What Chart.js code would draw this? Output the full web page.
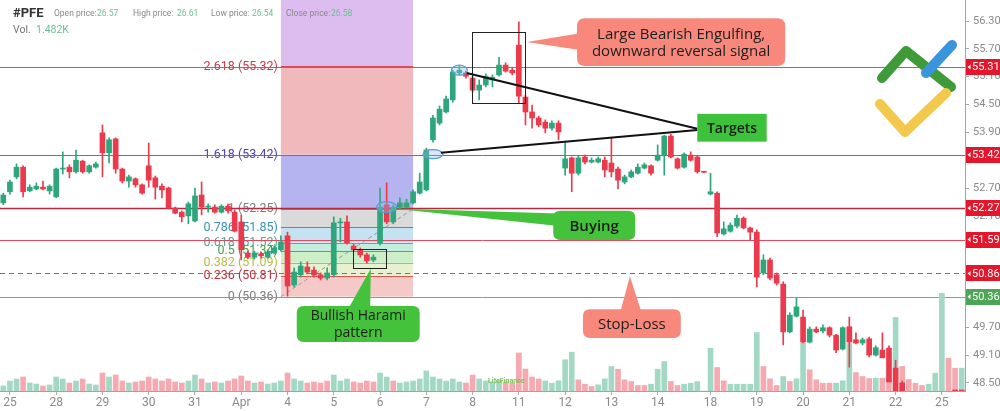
<!DOCTYPE html>
<html><head><meta charset="utf-8">
<script src="https://cdn.jsdelivr.net/npm/chart.js@4/dist/chart.umd.min.js"></script>
<style>html,body{margin:0;padding:0;background:#fff;overflow:hidden}canvas{display:block}</style>
</head><body>
<canvas id="c" width="1000" height="411" style="width:1000px;height:411px"></canvas>
<script>
// ---------- DATA (hourly PFE candles) ----------
const open = [52.38,52.62,52.94,53.15,52.64,52.68,52.72,52.64,52.51,53.11,53.15,53.05,53.28,53.05,53.15,53.89,53.46,53.76,53.11,52.85,52.90,52.77,53.18,52.92,52.74,52.70,52.27,52.18,52.10,51.99,52.55,52.29,52.29,52.18,52.31,52.18,51.97,51.30,51.21,51.28,51.21,51.30,51.37,51.67,50.61,50.83,51.00,50.93,50.83,50.76,50.83,51.95,51.97,51.45,51.37,51.26,51.15,51.52,52.34,51.97,52.29,52.29,52.38,52.59,52.66,53.74,54.10,54.34,54.60,55.18,55.18,55.07,54.81,54.92,55.03,55.14,55.35,55.24,55.78,54.66,54.34,54.21,54.12,53.99,54.10,53.13,53.35,53.02,53.37,53.26,53.26,53.30,53.24,53.11,52.83,52.94,53.02,53.13,53.18,53.30,53.41,53.82,53.33,53.15,53.41,53.37,53.05,52.57,52.59,51.71,51.77,51.88,52.05,51.84,51.75,50.87,51.15,50.83,50.63,49.60,49.94,49.92,49.38,49.66,49.62,49.69,49.53,49.23,49.71,49.43,49.36,49.45,49.10,49.21,49.25,48.82,48.50,48.24,48.10,48.05,48.15,48.08,48.00,48.12,48.20,48.15];
const high = [52.59,52.87,53.22,53.18,52.77,52.81,52.85,52.77,53.13,53.48,53.20,53.52,53.30,53.20,53.26,54.06,53.78,53.78,53.13,52.98,52.92,52.79,53.67,52.96,52.79,52.72,52.29,52.21,52.40,52.70,52.83,52.36,52.34,52.34,52.36,52.23,52.12,51.34,51.34,51.32,51.37,51.45,51.67,51.75,50.98,51.11,51.11,51.00,50.87,50.98,52.08,52.05,52.10,51.49,51.41,51.30,51.26,52.70,52.81,52.34,52.49,52.46,52.66,53.02,53.56,54.27,54.47,54.68,55.24,55.33,55.22,55.11,55.03,55.16,55.14,55.52,55.40,55.29,56.28,54.71,54.49,54.25,54.17,54.15,54.15,53.69,53.37,53.39,53.41,53.35,53.37,53.37,53.78,53.15,52.98,53.09,53.22,53.24,53.20,53.63,53.84,53.86,53.35,53.46,53.48,53.39,53.06,53.02,52.62,51.97,51.95,52.12,52.08,51.86,51.80,51.26,51.19,50.87,50.68,50.01,50.33,50.07,49.71,49.71,49.75,49.71,49.55,49.71,49.92,49.58,49.47,49.49,49.30,49.58,49.30,48.99,48.54,48.28,48.16,48.20,48.22,48.12,48.18,48.26,48.25,48.24];
const low = [52.34,52.57,52.90,52.51,52.62,52.66,52.66,52.57,52.49,53.00,52.92,53.02,53.02,53.02,53.13,52.94,53.24,53.02,52.81,52.72,52.72,52.57,52.72,52.46,52.49,52.25,52.14,51.97,51.93,51.97,52.12,52.18,52.16,52.16,52.16,51.75,51.15,51.17,51.17,51.19,51.19,51.28,51.34,50.37,50.57,50.78,50.86,50.78,50.72,50.72,50.78,51.54,51.49,51.34,51.21,51.08,51.11,51.47,51.93,51.93,52.25,52.27,52.36,52.57,52.64,53.69,54.06,54.32,54.55,55.14,55.07,54.77,54.60,54.88,54.88,55.11,55.20,55.14,54.53,54.06,53.99,54.02,53.89,53.95,53.74,52.98,52.62,52.98,53.22,53.24,53.24,52.94,52.94,52.68,52.79,52.92,53.00,53.11,52.98,53.28,52.98,53.35,53.11,53.13,53.28,53.02,53.03,52.55,51.65,51.69,51.75,51.84,51.82,51.58,50.57,50.83,50.72,50.61,49.32,49.58,49.92,49.36,49.36,49.58,49.58,49.49,49.15,49.21,48.84,49.34,49.32,49.06,49.08,49.19,48.89,48.48,48.18,48.02,47.98,48.00,48.02,47.92,47.95,48.08,48.10,48.10];
const close = [52.55,52.83,53.15,52.62,52.72,52.74,52.68,52.74,53.11,53.13,53.05,53.30,53.05,53.18,53.22,53.46,53.74,53.11,52.85,52.94,52.77,52.59,52.87,52.72,52.66,52.27,52.16,52.08,52.36,52.53,52.29,52.31,52.18,52.31,52.21,51.77,51.37,51.21,51.30,51.24,51.32,51.41,51.54,50.59,50.89,51.02,50.89,50.83,50.76,50.87,51.95,51.97,51.52,51.37,51.26,51.13,51.21,52.29,51.97,52.29,52.38,52.38,52.62,52.83,53.52,54.21,54.40,54.62,55.20,55.24,55.11,54.81,54.92,55.11,55.09,55.35,55.22,55.18,54.68,54.34,54.21,54.06,53.99,54.10,53.91,53.33,53.02,53.35,53.26,53.30,53.33,53.09,53.05,52.87,52.94,53.05,53.15,53.20,53.02,53.41,53.82,53.37,53.13,53.43,53.30,53.05,53.04,52.62,51.73,51.82,51.90,52.05,51.84,51.75,50.78,51.15,50.76,50.65,49.60,49.96,50.14,49.38,49.66,49.60,49.69,49.53,49.21,49.69,49.38,49.36,49.43,49.10,49.26,49.04,48.52,48.24,48.10,48.05,48.15,48.08,48.00,48.12,48.20,48.15,48.18];
// volume in thousands, and its colour direction (G = up, R = down)
const volume = [50,100,120,140,80,70,50,60,140,120,80,100,120,70,60,180,140,160,100,80,90,100,140,120,100,120,90,80,100,160,120,80,90,80,100,120,150,100,80,90,70,80,100,180,120,100,80,90,80,100,160,100,120,90,80,100,90,180,140,100,80,90,100,120,200,140,120,100,120,90,80,160,120,100,90,100,90,80,380,220,140,120,100,78,102,312,388,112,68,45,62,122,245,218,112,95,55,55,68,218,295,95,55,68,78,95,0,428,235,102,68,68,68,68,585,245,122,55,145,95,122,478,212,112,78,78,78,102,475,185,145,125,128,128,112,735,245,115,78,55,68,178,978,328,228,228];
const volumeDir = "GGGRGGRGGGRGRGGRGRRGRRRRRRRRGGRGRGRRRRGRGGGRGGRRRRGGGRRRRGGRGGGGGGGGGGRRGGGGRRRRRRGGGGGRRRGGGRRRRRGGGRRGGGGGRRGGGGGRRRGRGGRRRRGGGRRRGRRGRRRRGGGRRG";
// x-axis tick labels and the bar where each trading day starts
const tickLabels = ['25','28','29','30','31','Apr','4','5','6','7','8','11','12','13','14','18','19','20','21','22','25'];
const tickIndex  = [1,8,15,22,29,36,43,50,57,64,71,78,85,92,99,107,114,121,128,135,142];
// right price axis ticks
const priceTicks = [48.50,49.10,49.70,50.30,50.90,51.50,52.10,52.70,53.30,53.90,54.50,55.10,55.70,56.30];
// Fibonacci extension drawn from bar 42 to bar 62
const fibRatios = ['0','0.236','0.382','0.5','0.618','0.786','1','1.618','2.618','3.618'];
const fibPrices = [50.36,50.81,51.09,51.34,51.52,51.85,52.25,53.42,55.32,57.22];
const fibBars = [42,62];
// horizontal price levels with axis tags
const levelPrices = [55.31,53.42,52.27,51.59,50.86,50.36];

// ---------- STYLE ----------
const UP = '#2ea67c', DN = '#ea3a4c';
const fibZoneColors = ['#f6c9c9','#e6f1cf','#cdefc8','#c4eddf','#c4e2f2','#dadada','#b5b4f1','#f1b9bb','#ddbdf0'];
const fibLineColors = ['#8a8a8a','#d9534f','#b7bd3c','#4caf50','#4fb59a','#3f93bd','#8a8a8a','#5b4fc0','#d64b5b'];
const fibTextColors = ['#7d7d7d','#b8323c','#b9bd40','#45a049','#4aa88e','#3a8fb8','#7d7d7d','#4b3fb0','#c23a4a'];
const levelColors = ['#e04a5c','#dc4558','#b42a3e','#e04a5c','#d9485a','#7fa47f'];
const tagColors = ['#e3162b','#e3162b','#e3162b','#e3162b','#e3162b','#4fa556'];

const n = open.length;
const labels = Array.from({length:n},(_,i)=>{const k=tickIndex.indexOf(i);return k>=0?tickLabels[k]:'';});
const candleColors = open.map((o,i)=> close[i]>=o ? UP : DN);
const wickData = low.map((l,i)=>[l,high[i]]);
const bodyData = open.map((o,i)=>[Math.min(o,close[i]),Math.max(o,close[i])]);
const volColors = volumeDir.split('').map(d=> d==='G' ? '#a3d9c4' : '#f6a9b1');

function roundRect(ctx,x,y,w,h,r){ctx.beginPath();ctx.moveTo(x+r,y);ctx.lineTo(x+w-r,y);ctx.quadraticCurveTo(x+w,y,x+w,y+r);ctx.lineTo(x+w,y+h-r);ctx.quadraticCurveTo(x+w,y+h,x+w-r,y+h);ctx.lineTo(x+r,y+h);ctx.quadraticCurveTo(x,y+h,x,y+h-r);ctx.lineTo(x,y+r);ctx.quadraticCurveTo(x,y,x+r,y);ctx.closePath();}

const overlay = {
  id:'overlay',
  beforeDatasetsDraw(chart){
    const {ctx, chartArea:a} = chart;
    const X=i=>chart.scales.x.getPixelForValue(i), Y=v=>chart.scales.y.getPixelForValue(v);
    ctx.save();
    ctx.beginPath(); ctx.rect(a.left,a.top,a.right-a.left,a.bottom-a.top); ctx.clip();
    const x0=X(fibBars[0]), x1=X(fibBars[1]);
    for(let k=0;k<fibPrices.length-1;k++){
      const yt=Y(fibPrices[k+1]), yb=Y(fibPrices[k]);
      ctx.fillStyle=fibZoneColors[k]; ctx.fillRect(x0,yt,x1-x0,yb-yt);
    }
    ctx.lineWidth=1;
    for(let k=0;k<fibPrices.length-1;k++){
      const y=Math.round(Y(fibPrices[k]))+0.5;
      ctx.strokeStyle=fibLineColors[k]; ctx.beginPath(); ctx.moveTo(x0,y); ctx.lineTo(x1,y); ctx.stroke();
    }
    ctx.font='12.5px Roboto'; ctx.textAlign='right'; ctx.textBaseline='middle';
    for(let k=0;k<fibPrices.length-1;k++){
      ctx.fillStyle=fibTextColors[k];
      ctx.fillText(fibRatios[k]+' ('+fibPrices[k].toFixed(2)+')', x0-3, Y(fibPrices[k]));
    }
    ctx.setLineDash([4,3]); ctx.strokeStyle='#9a9a9a';
    ctx.beginPath(); ctx.moveTo(X(fibBars[0]),Y(fibPrices[0])); ctx.lineTo(X(fibBars[1]),Y(fibPrices[6])); ctx.stroke();
    ctx.setLineDash([]);
    levelPrices.forEach((p,k)=>{
      const y=Math.round(Y(p))+0.5;
      ctx.strokeStyle=levelColors[k]; ctx.lineWidth = k===2?1.5:1;
      ctx.setLineDash(k===4?[5,4]:[]);
      ctx.beginPath(); ctx.moveTo(a.left,y); ctx.lineTo(a.right,y); ctx.stroke();
    });
    ctx.setLineDash([]);
    ctx.restore();
  },
  afterDatasetsDraw(chart){
    const {ctx} = chart;
    const X=i=>chart.scales.x.getPixelForValue(i), Y=v=>chart.scales.y.getPixelForValue(v);
    ctx.save();
    [[69,55.24,8,5],[65,53.43,10,4.5],[58,52.29,10,5.5]].forEach(([i,p,rx,ry])=>{
      ctx.beginPath(); ctx.ellipse(X(i),Y(p),rx,ry,0,0,Math.PI*2);
      ctx.fillStyle='rgba(140,185,235,0.35)'; ctx.fill();
      ctx.strokeStyle='#5b9bd5'; ctx.lineWidth=1.2; ctx.stroke();
    });
    ctx.strokeStyle='#222'; ctx.lineWidth=1;
    [[52.9,57.9,51.39,50.98],[70.9,78.9,56.06,54.54]].forEach(([i0,i1,p0,p1])=>{
      ctx.strokeRect(Math.round(X(i0))+0.5,Math.round(Y(p0))+0.5,Math.round(X(i1)-X(i0)),Math.round(Y(p1)-Y(p0)));
    });
    ctx.strokeStyle='#111'; ctx.lineWidth=2;
    ctx.beginPath(); ctx.moveTo(X(70.1),Y(55.18)); ctx.lineTo(X(105),Y(53.98)); ctx.stroke();
    ctx.beginPath(); ctx.moveTo(X(66.2),Y(53.46)); ctx.lineTo(X(105),Y(53.95)); ctx.stroke();
    const tri=(pts,col)=>{ctx.beginPath();ctx.moveTo(pts[0][0],pts[0][1]);pts.slice(1).forEach(p=>ctx.lineTo(p[0],p[1]));ctx.closePath();ctx.fillStyle=col;ctx.fill();};
    const SAL='#f8887c', GRN='#44c23c';
    tri([[X(79.2),Y(55.85)],[X(87.5),Y(56.04)],[X(87.5),Y(55.67)]],SAL);
    tri([[X(59.0),Y(52.26)],[X(84),Y(52.15)],[X(84),Y(51.88)]],GRN);
    tri([[X(94.8),Y(50.80)],[X(93.3),Y(50.0)],[X(96.6),Y(50.0)]],SAL);
    tri([[X(55.6),Y(50.96)],[X(52.0),Y(50.05)],[X(55.5),Y(50.05)]],GRN);
    const box=(i0,i1,p0,p1,r,col,lines,font)=>{
      const x=X(i0), y=Y(p0), w=X(i1)-x, h=Y(p1)-y;
      if(r>0){roundRect(ctx,x,y,w,h,r);ctx.fillStyle=col;ctx.fill();}else{ctx.fillStyle=col;ctx.fillRect(x,y,w,h);}
      ctx.fillStyle='#1d1d1d'; ctx.font=font; ctx.textAlign='center'; ctx.textBaseline='middle';
      const lh=17; const cy=y+h/2-(lines.length-1)*lh/2;
      lines.forEach((t,k)=>ctx.fillText(t,x+w/2,cy+k*lh+1));
    };
    box(86.8,118.3,56.36,55.33,8,SAL,['Large Bearish Engulfing,','downward reversal signal'],'500 15px "Open Sans"');
    box(105.0,115.5,54.30,53.70,0,'#3ec23b',['Targets'],'600 14px "Open Sans"');
    box(83.2,95.6,52.21,51.58,7,GRN,['Buying'],'600 15px "Open Sans"');
    box(87.7,102.5,50.09,49.47,7,SAL,['Stop-Loss'],'500 15px "Open Sans"');
    box(44.4,63.0,50.16,49.38,7,GRN,['Bullish Harami','pattern'],'500 14px "Open Sans"');
    ctx.restore();
  },
  afterDraw(chart){
    const {ctx, chartArea:a} = chart;
    const Y=v=>chart.scales.y.getPixelForValue(v);
    ctx.save();
    levelPrices.forEach((p,k)=>{
      const y=Y(p);
      ctx.fillStyle=tagColors[k]; ctx.fillRect(a.right+1,Math.round(y-8),35,16);
      ctx.fillStyle='#fff'; ctx.beginPath(); ctx.moveTo(a.right+2.5,y); ctx.lineTo(a.right+5.5,y-2.5); ctx.lineTo(a.right+5.5,y+2.5); ctx.closePath(); ctx.fill();
      ctx.font='11px Roboto'; ctx.textAlign='left'; ctx.textBaseline='middle';
      ctx.fillText(p.toFixed(2), a.right+7, y+0.5);
    });
    ctx.textBaseline='middle'; ctx.textAlign='left';
    ctx.font='bold 13px Roboto'; ctx.fillStyle='#333'; ctx.fillText('#PFE',13,14);
    const items=[['Open price:',54,'26.57',97],['High price:',133,'26.61',177],['Low price:',211,'26.54',252],['Close price:',286,'26.58',331]];
    ctx.font='8.5px Roboto';
    items.forEach(([t,x,v,xv])=>{ctx.fillStyle='#888';ctx.fillText(t,x,14);ctx.fillStyle='#6cc095';ctx.fillText(v,xv,14);});
    ctx.font='10.5px Roboto'; ctx.fillStyle='#777'; ctx.fillText('Vol.',13,30); ctx.fillStyle='#6cc095'; ctx.fillText('1.482K',36,30);
    ctx.lineCap='round'; ctx.lineJoin='round'; ctx.lineWidth=10;
    ctx.strokeStyle='#3f9a3a'; ctx.beginPath(); ctx.moveTo(882,78); ctx.lineTo(906,51); ctx.lineTo(951,87); ctx.stroke();
    ctx.strokeStyle='#f2c94c'; ctx.beginPath(); ctx.moveTo(880,104); ctx.lineTo(905,132); ctx.lineTo(946,93); ctx.stroke();
    ctx.strokeStyle='#3a95dc'; ctx.beginPath(); ctx.moveTo(926,73); ctx.lineTo(952,45); ctx.stroke();
    ctx.font='bold 7px Roboto'; ctx.fillStyle='#7bbf5a'; ctx.fillText('LiteFinance',488,381);
    ctx.restore();
  }
};

new Chart(document.getElementById('c'),{
  type:'bar',
  data:{labels, datasets:[
    {data:volume, yAxisID:'yv', backgroundColor:volColors, barThickness:5, grouped:false, order:3},
    {data:wickData, yAxisID:'y', backgroundColor:candleColors, barThickness:1, grouped:false, order:2},
    {data:bodyData, yAxisID:'y', backgroundColor:candleColors, barThickness:5, minBarLength:1, grouped:false, order:1}
  ]},
  options:{
    responsive:false, animation:false, devicePixelRatio:1,
    layout:{padding:0},
    plugins:{legend:{display:false}, tooltip:{enabled:false}},
    scales:{
      x:{type:'category', offset:true,
        grid:{display:true, offset:false, drawOnChartArea:false, drawTicks:true, tickLength:4, color:'#aaa'},
        border:{display:true, color:'#a0a4a8'},
        ticks:{autoSkip:false, maxRotation:0, color:'#8a8a8a', font:{size:12, family:'Roboto'}, padding:1},
        afterBuildTicks(s){ s.ticks = tickIndex.map(v=>({value:v})); },
        afterFit(s){ s.height = 20; s.paddingLeft = 0; s.paddingRight = 0; }
      },
      y:{type:'linear', position:'right', min:48.326, max:56.753,
        afterBuildTicks(s){ s.ticks = priceTicks.map(v=>({value:v})); },
        ticks:{callback:v=>Number(v).toFixed(2), color:'#8a8a8a', font:{size:11, family:'Roboto'}, padding:4},
        grid:{drawOnChartArea:false, drawTicks:true, tickLength:4, color:'#aaa'},
        border:{display:true, color:'#a0a4a8'},
        afterFit(s){ s.width = 35; s.paddingTop = 0; s.paddingBottom = 0; }
      },
      yv:{type:'linear', display:false, min:0, max:3910,
        afterFit(s){ s.paddingTop = 0; s.paddingBottom = 0; }
      }
    }
  },
  plugins:[overlay]
});
</script>
</body></html>
